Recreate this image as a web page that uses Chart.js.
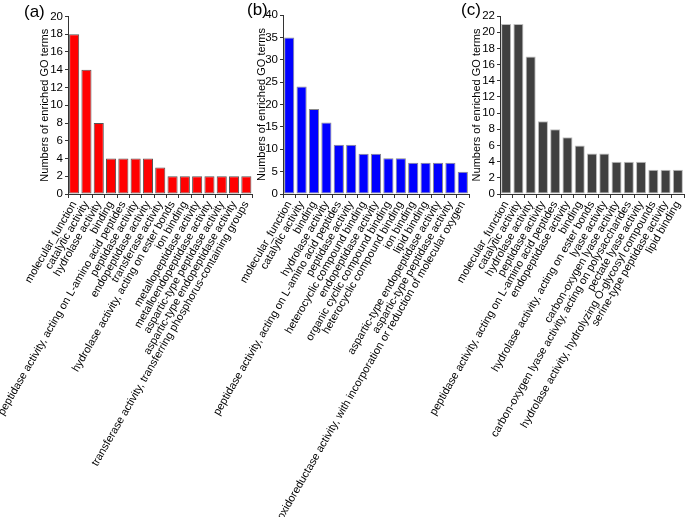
<!DOCTYPE html>
<html>
<head>
<meta charset="utf-8">
<script src="https://cdn.jsdelivr.net/npm/chart.js@4/dist/chart.umd.min.js"></script>
<style>
  html, body { margin: 0; padding: 0; background: #fff; }
  body { width: 685px; height: 517px; position: relative; overflow: hidden; font-family: Arial, "Liberation Sans", sans-serif; }
  canvas { position: absolute; left: 0; top: 0; }
  .pl { position: absolute; font-size: 17px; color: #000; line-height: 1; }
</style>
</head>
<body>
<canvas id="ca" width="685" height="517"></canvas>
<canvas id="cb" width="685" height="517"></canvas>
<canvas id="cc" width="685" height="517"></canvas>
<div class="pl" style="left:24px;top:3px;">(a)</div>
<div class="pl" style="left:247px;top:1px;">(b)</div>
<div class="pl" style="left:461px;top:1px;">(c)</div>
<script>
const labelsA = [
  "molecular_function", "catalytic activity", "hydrolase activity", "binding",
  "peptidase activity, acting on L-amino acid peptides", "peptidase activity",
  "endopeptidase activity", "transferase activity",
  "hydrolase activity, acting on ester bonds", "ion binding",
  "metallopeptidase activity", "metalloendopeptidase activity",
  "aspartic-type peptidase activity", "aspartic-type endopeptidase activity",
  "transferase activity, transferring phosphorus-containing groups"
];
const valuesA = [18, 14, 8, 4, 4, 4, 4, 3, 2, 2, 2, 2, 2, 2, 2];

const labelsB = [
  "molecular_function", "catalytic activity", "binding", "hydrolase activity",
  "peptidase activity, acting on L-amino acid peptides", "peptidase activity",
  "heterocyclic compound binding", "endopeptidase activity",
  "organic cyclic compound binding", "heterocyclic compound binding",
  "ion binding", "lipid binding", "aspartic-type endopeptidase activity",
  "aspartic-type peptidase activity",
  "oxidoreductase activity, with incorporation or reduction of molecular oxygen"
];
const valuesB = [35, 24, 19, 16, 11, 11, 9, 9, 8, 8, 7, 7, 7, 7, 5];

const labelsC = [
  "molecular_function", "catalytic activity", "hydrolase activity", "peptidase activity",
  "peptidase activity, acting on L-amino acid peptides", "endopeptidase activity",
  "binding", "hydrolase activity, acting on ester bonds", "lyase activity",
  "carbon-oxygen lyase activity",
  "carbon-oxygen lyase activity, acting on polysaccharides", "pectate lyase activity",
  "hydrolase activity, hydrolyzing O-glycosyl compounds",
  "serine-type peptidase activity", "lipid binding"
];
const valuesC = [21, 21, 17, 9, 8, 7, 6, 5, 5, 4, 4, 4, 3, 3, 3];

const yMaxA = 20, yStepA = 2;
const yMaxB = 40, yStepB = 5;
const yMaxC = 22, yStepC = 2;

const FONT = "Arial, 'Liberation Sans', sans-serif";
const H = 517;

function makeChart(id, labels, values, fill, border, yMax, yStep, geom) {
  return new Chart(document.getElementById(id), {
    type: 'bar',
    data: {
      labels: labels,
      datasets: [{
        data: values,
        backgroundColor: fill,
        borderColor: border,
        borderWidth: 1,
        borderSkipped: false,
        barPercentage: 0.82,
        categoryPercentage: 1.0
      }]
    },
    options: {
      responsive: false,
      animation: false,
      devicePixelRatio: 1,
      layout: { padding: { left: geom.left, top: geom.top, right: 685 - geom.right, bottom: 0 } },
      plugins: { legend: { display: false }, tooltip: { enabled: false }, title: { display: false } },
      scales: {
        x: {
          type: 'category',
          offset: true,
          grid: { display: true, drawOnChartArea: false, drawTicks: true, tickLength: 4, color: '#333', lineWidth: 1 },
          border: { display: true, color: '#333', width: 1 },
          ticks: {
            autoSkip: false, minRotation: 60, maxRotation: 60, padding: 1,
            color: '#000', font: { family: FONT, size: 11 }
          },
          afterFit: function (s) { s.height = H - geom.bottom; s.paddingLeft = 0; s.paddingRight = 0; }
        },
        y: {
          min: 0, max: yMax,
          grid: { display: true, drawOnChartArea: false, drawTicks: true, tickLength: 3, color: '#333', lineWidth: 1 },
          border: { display: true, color: '#333', width: 1 },
          ticks: { stepSize: yStep, autoSkip: false, padding: 2, color: '#000', font: { family: FONT, size: 11.5 } },
          title: {
            display: true, text: 'Numbers of enriched GO terms', color: '#000',
            font: { family: FONT, size: 11 }, padding: { top: 0, bottom: 0 }
          },
          afterFit: function (s) { s.width = geom.axisX - geom.left; s.paddingTop = 0; s.paddingBottom = 0; }
        }
      }
    }
  });
}

makeChart('ca', labelsA, valuesA, '#ff0000', '#555555', yMaxA, yStepA,
  { left: 38, axisX: 68, top: 16.5, right: 252.5, bottom: 194 });
makeChart('cb', labelsB, valuesB, '#0000ff', '#8a8a8a', yMaxB, yStepB,
  { left: 255, axisX: 283, top: 15, right: 469, bottom: 194 });
makeChart('cc', labelsC, valuesC, '#404040', '#bdbdbd', yMaxC, yStepC,
  { left: 470, axisX: 500, top: 16, right: 684, bottom: 194 });
</script>
</body>
</html>
